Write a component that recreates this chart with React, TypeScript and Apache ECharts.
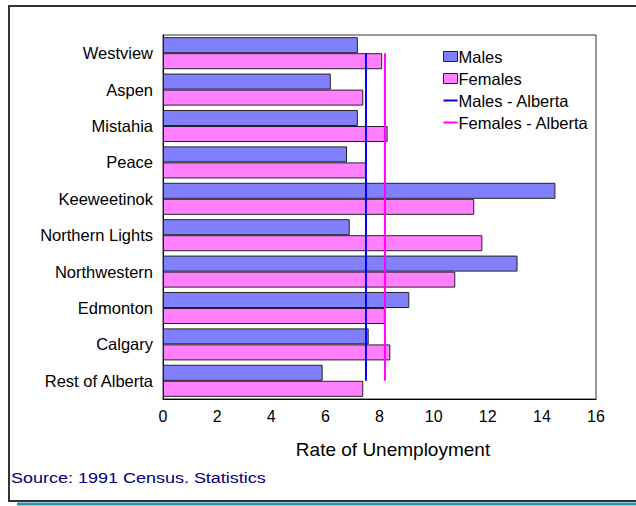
import React, { useEffect, useRef } from "react";
import * as echarts from "echarts";

const categories = [
  "Westview",
  "Aspen",
  "Mistahia",
  "Peace",
  "Keeweetinok",
  "Northern Lights",
  "Northwestern",
  "Edmonton",
  "Calgary",
  "Rest of Alberta",
];
const males = [7.2, 6.2, 7.2, 6.8, 14.5, 6.9, 13.1, 9.1, 7.6, 5.9];
const females = [8.1, 7.4, 8.3, 7.5, 11.5, 11.8, 10.8, 8.2, 8.4, 7.4];
const malesAlberta = [7.5, 7.5, 7.5, 7.5, 7.5, 7.5, 7.5, 7.5, 7.5, 7.5];
const femalesAlberta = [8.2, 8.2, 8.2, 8.2, 8.2, 8.2, 8.2, 8.2, 8.2, 8.2];
const xTicks = { min: 0, max: 16, interval: 2 };

const FONT = "'Liberation Sans', Arial, sans-serif";
const LINE_ICON = "path://M0 0H14V2H0Z";

export default function App() {
  const ref = useRef<HTMLDivElement>(null);
  useEffect(() => {
    document.body.style.margin = "0";
    if (!ref.current) return;
    const chart = echarts.init(ref.current, undefined, { renderer: "svg" });
    chart.setOption({
      animation: false,
      backgroundColor: "#ffffff",
      textStyle: { fontFamily: FONT },
      grid: {
        left: 163,
        top: 35,
        right: 40,
        bottom: 107,
        show: true,
        borderColor: "#333",
        borderWidth: 1,
      },
      legend: {
        orient: "vertical",
        left: 438,
        top: 43,
        itemWidth: 14,
        itemHeight: 10,
        itemGap: 5,
        textStyle: { fontFamily: FONT, fontSize: 16.5, color: "#000", padding: [0, 0, 0, -4] },
        data: [
          { name: "Males", icon: "rect", itemStyle: { borderColor: "#222", borderWidth: 1 } },
          { name: "Females", icon: "rect", itemStyle: { borderColor: "#222", borderWidth: 1 } },
          { name: "Males - Alberta", icon: LINE_ICON },
          { name: "Females - Alberta", icon: LINE_ICON },
        ],
      },
      xAxis: {
        type: "value",
        min: xTicks.min,
        max: xTicks.max,
        interval: xTicks.interval,
        axisLine: { show: true, lineStyle: { color: "#000", width: 1 } },
        axisTick: { show: false },
        splitLine: { show: false },
        axisLabel: { fontFamily: FONT, fontSize: 16, color: "#000", margin: 9 },
      },
      yAxis: {
        type: "category",
        inverse: true,
        data: categories,
        axisLine: { show: true, lineStyle: { color: "#000", width: 1 } },
        axisTick: { show: false },
        axisLabel: { fontFamily: FONT, fontSize: 16.5, color: "#000", margin: 10 },
      },
      series: [
        {
          name: "Males",
          type: "bar",
          data: males,
          barGap: "0%",
          barCategoryGap: "12%",
          itemStyle: { color: "#8080ff", borderColor: "#222", borderWidth: 1 },
        },
        {
          name: "Females",
          type: "bar",
          data: females,
          barGap: "0%",
          barCategoryGap: "12%",
          itemStyle: { color: "#ff80ff", borderColor: "#222", borderWidth: 1 },
        },
        {
          name: "Males - Alberta",
          type: "line",
          data: malesAlberta,
          symbol: "none",
          lineStyle: { color: "#0000ff", width: 2 },
          itemStyle: { color: "#0000ff" },
          z: 5,
        },
        {
          name: "Females - Alberta",
          type: "line",
          data: femalesAlberta,
          symbol: "none",
          lineStyle: { color: "#ff00ff", width: 2 },
          itemStyle: { color: "#ff00ff" },
          z: 5,
        },
      ],
      graphic: [
        {
          type: "rect",
          shape: { x: 9, y: 6, width: 640, height: 495 },
          style: { fill: "none", stroke: "#333", lineWidth: 2 },
          silent: true,
        },
        {
          type: "line",
          shape: { x1: 17, y1: 504, x2: 636, y2: 504 },
          style: { stroke: "#2596b0", lineWidth: 3 },
          silent: true,
        },
        {
          type: "text",
          x: 393,
          y: 449,
          style: {
            text: "Rate of Unemployment",
            fontFamily: FONT,
            fontSize: 19,
            fill: "#000",
            align: "center",
            verticalAlign: "middle",
          },
        },
        {
          type: "text",
          x: 11,
          y: 478,
          scaleX: 1.2,
          style: {
            text: "Source: 1991 Census. Statistics",
            fontFamily: FONT,
            fontSize: 15,
            fill: "#000080",
            align: "left",
            verticalAlign: "middle",
          },
        },
      ],
    });
    return () => chart.dispose();
  }, []);
  return <div ref={ref} style={{ width: 636, height: 506 }} />;
}
